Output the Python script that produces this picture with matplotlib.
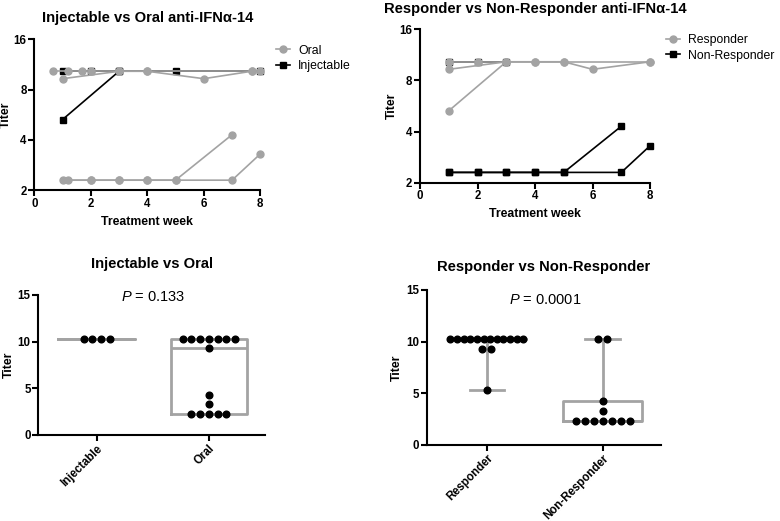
import numpy as np
import matplotlib
matplotlib.use("Agg")
import matplotlib.pyplot as plt
from matplotlib.lines import Line2D

plt.rcParams['font.family'] = ['Liberation Sans', 'DejaVu Sans']
plt.rcParams['mathtext.fontset'] = 'custom'
plt.rcParams['mathtext.it'] = 'Liberation Sans:italic'
plt.rcParams['mathtext.rm'] = 'Liberation Sans'

# ---------------- data ----------------
# Top-left: Injectable vs Oral (per-subject lines)
inj_weeks = [[1, 3], [1, 2, 3, 5, 8]]
inj_titers = [[5.3, 10.3], [10.3, 10.3, 10.3, 10.3, 10.3]]
oral_weeks = [[0.66, 1.18, 1.68, 2, 3, 4, 7.69, 8],
              [1, 3, 4, 6, 7.69],
              [1, 2, 3, 4, 5, 7],
              [1.18, 2, 3, 4, 5, 7, 8]]
oral_titers = [[10.3, 10.3, 10.3, 10.3, 10.3, 10.3, 10.3, 10.3],
               [9.3, 10.3, 10.3, 9.3, 10.3],
               [2.3, 2.3, 2.3, 2.3, 2.3, 4.3],
               [2.3, 2.3, 2.3, 2.3, 2.3, 2.3, 3.3]]

# Top-right: Responder vs Non-Responder
nonresp_weeks = [[1, 2, 3], [1, 2, 3, 4, 5, 7], [1, 2, 3, 4, 5, 7, 8]]
nonresp_titers = [[10.3, 10.3, 10.3], [2.3, 2.3, 2.3, 2.3, 2.3, 4.3],
                  [2.3, 2.3, 2.3, 2.3, 2.3, 2.3, 3.3]]
resp_weeks = [[1, 2, 3, 4, 5, 8], [1, 3, 4, 5, 6, 8], [1, 3]]
resp_titers = [[10.3, 10.3, 10.3, 10.3, 10.3, 10.3],
               [9.3, 10.3, 10.3, 10.3, 9.3, 10.3],
               [5.3, 10.3]]

# Bottom: pooled titers
group_cats_a = ["Injectable", "Oral"]
injectable_vals = [10.3, 10.3, 10.3, 10.3]
oral_vals = [10.3, 10.3, 10.3, 10.3, 10.3, 10.3, 10.3, 9.3, 4.3, 3.3,
             2.3, 2.3, 2.3, 2.3, 2.3]
p_text_a = "0.133"

group_cats_b = ["Responder", "Non-Responder"]
responder_vals = [10.3, 10.3, 10.3, 10.3, 10.3, 10.3, 10.3, 10.3, 10.3, 10.3,
                  10.3, 10.3, 9.3, 9.3, 5.3]
nonresponder_vals = [10.3, 10.3, 4.3, 3.3, 2.3, 2.3, 2.3, 2.3, 2.3, 2.3, 2.3]
p_text_b = "0.0001"

GRAY = "#a3a3a3"
BLACK = "#000000"

fig = plt.figure(figsize=(7.8, 5.21), dpi=100)


def style_axes(ax):
    for s in ['top', 'right']:
        ax.spines[s].set_visible(False)
    for s in ['left', 'bottom']:
        ax.spines[s].set_linewidth(1.5)
    ax.tick_params(width=1.5, length=4, labelsize=8.3, pad=1.5)
    for lab in ax.get_xticklabels() + ax.get_yticklabels():
        lab.set_fontweight('bold')


def top_plot(ax, black_w, black_t, gray_w, gray_t, title, labels, tpad, leg_y):
    for w, t in zip(black_w, black_t):
        ax.plot(w, t, color=BLACK, lw=1.2, marker='s', ms=5, mec=BLACK, mfc=BLACK,
                zorder=2, clip_on=False)
    for w, t in zip(gray_w, gray_t):
        ax.plot(w, t, color=GRAY, lw=1.2, marker='o', ms=5, mec=GRAY, mfc=GRAY,
                zorder=3, clip_on=False)
    ax.set_yscale('log', base=2)
    ax.set_ylim(2, 16)
    ax.set_yticks([2, 4, 8, 16])
    ax.set_yticklabels(['2', '4', '8', '16'])
    ax.minorticks_off()
    ax.set_xlim(0, 8)
    ax.set_xticks([0, 2, 4, 6, 8])
    ax.set_xlabel("Treatment week", fontsize=8.8, fontweight='bold', labelpad=4)
    ax.set_ylabel("Titer", fontsize=8.8, fontweight='bold', labelpad=1)
    ax.set_title(title, fontsize=10.6, fontweight='bold', pad=tpad)
    style_axes(ax)
    h = [Line2D([], [], color=GRAY, lw=1.2, marker='o', ms=5, mfc=GRAY, mec=GRAY),
         Line2D([], [], color=BLACK, lw=1.2, marker='s', ms=5, mfc=BLACK, mec=BLACK)]
    ax.legend(h, labels, loc='upper left', bbox_to_anchor=(1.07, leg_y), frameon=False,
              fontsize=8.8, handlelength=1.1, handletextpad=0.7, labelspacing=0.3,
              borderpad=0, borderaxespad=0)


ax1 = fig.add_axes([0.044, 0.6347, 0.2897, 0.2899])
top_plot(ax1, inj_weeks, inj_titers, oral_weeks, oral_titers,
         "Injectable vs Oral anti-IFN\u03b1-14", ["Oral", "Injectable"], 12.4, 0.965)
ax2 = fig.add_axes([0.5385, 0.6493, 0.2949, 0.2945])
top_plot(ax2, nonresp_weeks, nonresp_titers, resp_weeks, resp_titers,
         "Responder vs Non-Responder anti-IFN\u03b1-14", ["Responder", "Non-Responder"],
         11.7, 0.97)


def box_stats(vals):
    v = np.asarray(vals, dtype=float)
    q1, med, q3 = np.percentile(v, [25, 50, 75], method='weibull')
    return dict(med=med, q1=q1, q3=q3, whislo=v.min(), whishi=v.max(), fliers=[])


def swarm(ax, pos, vals, spacing=0.078, maxspan=0.63):
    v = np.asarray(vals, dtype=float)
    for u in np.unique(v):
        n = int(np.sum(v == u))
        sp = spacing if n < 2 else min(spacing, maxspan / (n - 1))
        xs = pos + (np.arange(n) - (n - 1) / 2) * sp
        ax.plot(xs, [u] * n, 'o', color=BLACK, ms=4.8, zorder=4, clip_on=False)


def bottom_plot(ax, cats, groups, ptext, title, ptext_y, tpad):
    stats = [box_stats(g) for g in groups]
    ax.bxp(stats, positions=[0, 1], widths=0.68, showfliers=False, capwidths=0.3,
           boxprops=dict(color=GRAY, lw=2), whiskerprops=dict(color=GRAY, lw=2),
           capprops=dict(color=GRAY, lw=2), medianprops=dict(color=GRAY, lw=2),
           manage_ticks=False)
    for i, g in enumerate(groups):
        swarm(ax, i, g)
    ax.set_ylim(0, 15)
    ax.set_yticks([0, 5, 10, 15])
    ax.set_xlim(-0.52, 1.5)
    ax.set_xticks([0, 1])
    ax.set_xticklabels(cats, rotation=45, ha='right', rotation_mode='anchor')
    ax.set_ylabel("Titer", fontsize=8.8, fontweight='bold', labelpad=2)
    ax.set_title(title, fontsize=10.6, fontweight='bold', pad=tpad)
    ax.text(0.5, ptext_y, r"$P$ = " + ptext, ha='center', va='center', fontsize=10.5)
    style_axes(ax)


ax3 = fig.add_axes([0.0491, 0.1651, 0.2906, 0.2687])
bottom_plot(ax3, group_cats_a, [injectable_vals, oral_vals], p_text_a,
            "Injectable vs Oral", 14.8, 19.5)
ax4 = fig.add_axes([0.547, 0.1459, 0.30, 0.2975])
bottom_plot(ax4, group_cats_b, [responder_vals, nonresponder_vals], p_text_b,
            "Responder vs Non-Responder", 14.0, 13.7)

fig.savefig("out.png", dpi=100)
